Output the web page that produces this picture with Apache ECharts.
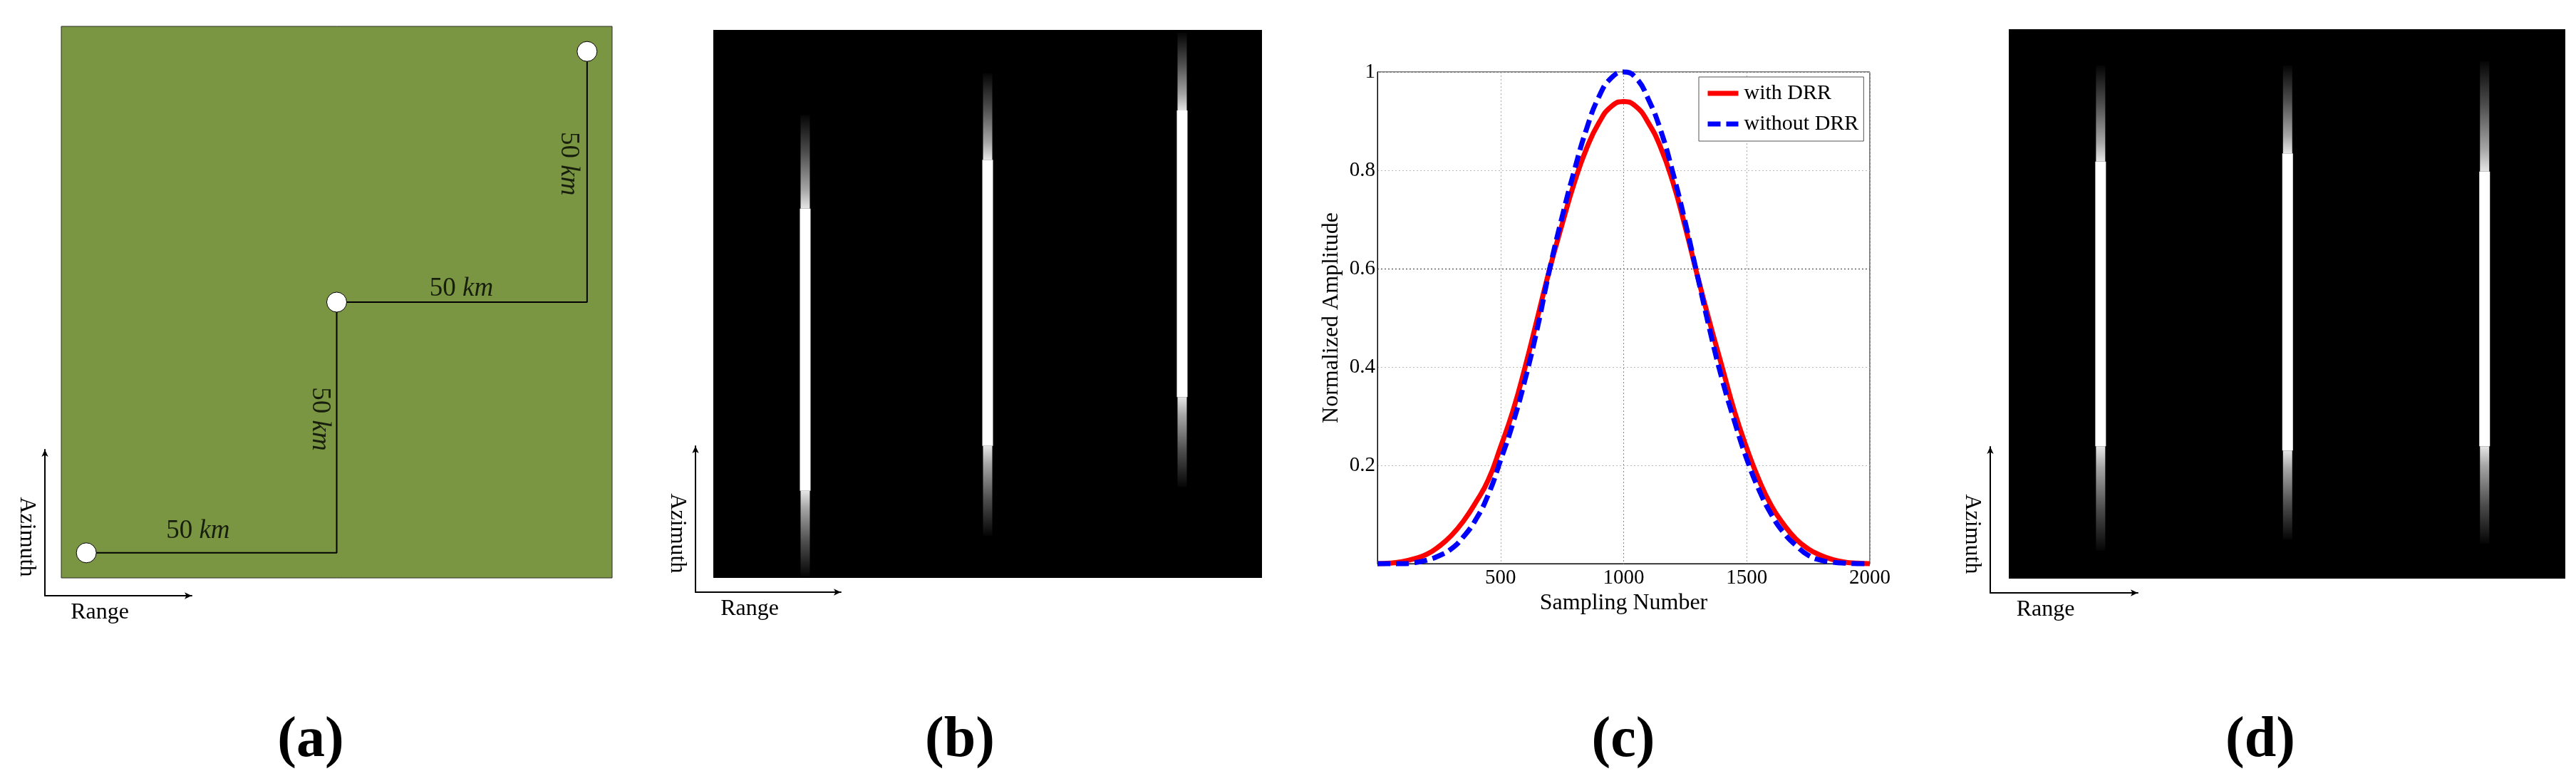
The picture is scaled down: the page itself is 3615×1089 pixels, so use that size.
<!DOCTYPE html>
<html>
<head>
<meta charset="utf-8">
<title>DRR figure</title>
<script src="https://cdn.jsdelivr.net/npm/echarts@6/dist/echarts.min.js"></script>
<style>
  html, body { margin: 0; padding: 0; background: #fff; }
  #main { width: 3615px; height: 1089px; }
</style>
</head>
<body>
<div id="main"></div>
<script>
// ---- datos (a): escena con tres blancos
const targetPoints = [[0, 0], [50, 50], [100, 100]];
const trackPath = [[0, 0], [50, 0], [50, 50], [100, 50], [100, 100]];
const kmLabels = ['50', '50', '50', '50'];
const kmLabelAt = [[22.3, 4.4], [46.6, 26.7], [74.9, 52.6], [96.3, 77.6]];
const kmLabelVertical = [false, true, false, true];

// ---- datos (b) y (d): [rango, inicio tenue, inicio brillo, fin brillo, fin tenue]
const stripesB = [
    [16.75, 84.5, 67.4, 15.9, 0.3],
    [50.0, 92.1, 76.3, 24.1, 7.7],
    [85.45, 99.5, 85.3, 33.0, 16.6]
];
const stripesD = [
    [16.5, 93.4, 75.9, 24.1, 5.1],
    [50.1, 93.4, 77.4, 23.3, 7.1],
    [85.5, 94.2, 74.1, 24.1, 6.4]
];

// ---- datos (c): perfil en acimut
const sampleIdx = [0, 50, 100, 150, 200, 250, 300, 350, 400, 450, 500, 550, 600, 650, 700, 750,
    800, 850, 900, 950, 1000, 1050, 1100, 1150, 1200, 1250, 1300, 1350, 1400, 1450, 1500,
    1550, 1600, 1650, 1700, 1750, 1800, 1850, 1900, 1950, 2000];
const withDRR = [0, 0.001, 0.004, 0.01, 0.019, 0.035, 0.057, 0.087, 0.125, 0.17, 0.237, 0.31,
    0.40, 0.50, 0.60, 0.69, 0.775, 0.845, 0.897, 0.93, 0.94, 0.93, 0.897, 0.847, 0.776, 0.685,
    0.585, 0.49, 0.40, 0.31, 0.235, 0.17, 0.118, 0.08, 0.05, 0.03, 0.017, 0.008, 0.003, 0.001, 0];
const withoutDRR = [0, 0, 0, 0.002, 0.007, 0.016, 0.03, 0.055, 0.09, 0.14, 0.21, 0.285,
    0.375, 0.48, 0.60, 0.705, 0.80, 0.885, 0.95, 0.988, 1.0, 0.988, 0.945, 0.882, 0.795, 0.695,
    0.585, 0.475, 0.375, 0.29, 0.213, 0.15, 0.10, 0.063, 0.037, 0.017, 0.007, 0.003, 0.001, 0, 0];
const seriesNames = ['with DRR', 'without DRR'];

const panelTags = ['(a)', '(b)', '(c)', '(d)'];

const FONT = '"Liberation Serif", "DejaVu Serif", serif';

const chart = echarts.init(document.getElementById('main'));

function hiddenAxis(g, min, max) {
    return { gridIndex: g, type: 'value', min: min, max: max, show: false };
}

function arrowX(g) {
    return {
        gridIndex: g, type: 'value', min: 0, max: 1,
        name: 'Range', nameLocation: 'middle', nameGap: 8,
        nameTextStyle: { fontFamily: FONT, fontSize: 32, color: '#000', padding: [0, 52, 0, 0] },
        axisLine: {
            show: true, onZero: false, symbol: ['none', 'arrow'], symbolSize: [7, 10],
            lineStyle: { color: '#000', width: 2 }
        },
        axisTick: { show: false }, axisLabel: { show: false }, splitLine: { show: false }
    };
}

function arrowY(g) {
    return {
        gridIndex: g, type: 'value', min: 0, max: 1,
        name: 'Azimuth', nameLocation: 'middle', nameRotate: -90, nameGap: 10,
        nameTextStyle: { fontFamily: FONT, fontSize: 32, color: '#000', padding: [0, 0, 0, 40] },
        axisLine: {
            show: true, onZero: false, symbol: ['none', 'arrow'], symbolSize: [7, 10],
            lineStyle: { color: '#000', width: 2 }
        },
        axisTick: { show: false }, axisLabel: { show: false }, splitLine: { show: false }
    };
}

// franja brillante con extremos que se desvanecen
function renderStripe(params, api) {
    const x = api.value(0);
    const pFadeTop = api.coord([x, api.value(1)]);
    const pTop = api.coord([x, api.value(2)]);
    const pBot = api.coord([x, api.value(3)]);
    const pFadeBot = api.coord([x, api.value(4)]);
    const w = 15;
    const left = pTop[0] - w / 2;
    const fadeStops = [
        { offset: 0, color: 'rgba(255,255,255,0.02)' },
        { offset: 0.4, color: 'rgba(255,255,255,0.3)' },
        { offset: 0.8, color: 'rgba(255,255,255,0.65)' },
        { offset: 1, color: 'rgba(255,255,255,0.9)' }
    ];
    const fadeStopsRev = fadeStops.map(s => ({ offset: 1 - s.offset, color: s.color })).reverse();
    return {
        type: 'group',
        children: [
            {
                type: 'rect',
                shape: { x: left + 1, y: pFadeTop[1], width: w - 2, height: pTop[1] - pFadeTop[1] },
                style: { fill: new echarts.graphic.LinearGradient(0, 0, 0, 1, fadeStops) }
            },
            {
                type: 'rect',
                shape: { x: left, y: pTop[1], width: w, height: pBot[1] - pTop[1] },
                style: { fill: '#ffffff' }
            },
            {
                type: 'rect',
                shape: { x: left + 1, y: pBot[1], width: w - 2, height: pFadeBot[1] - pBot[1] },
                style: { fill: new echarts.graphic.LinearGradient(0, 0, 0, 1, fadeStopsRev) }
            }
        ]
    };
}

const splitColorsY = ['#bbb', '#bbb', '#bbb', '#333', '#bbb', '#bbb'];
const splitColorsX = ['#aaa', '#aaa', '#888', '#aaa', '#aaa'];

const option = {
    backgroundColor: '#ffffff',
    animation: false,
    grid: [
        { left: 86, top: 37, width: 773, height: 774, show: true, backgroundColor: '#7a9642', borderColor: '#2b2b2b', borderWidth: 1 },
        { left: 63, top: 631, width: 206, height: 205 },
        { left: 1001, top: 42, width: 770, height: 769, show: true, backgroundColor: '#000', borderWidth: 0 },
        { left: 976, top: 626, width: 204, height: 205 },
        { left: 1933, top: 101, width: 691, height: 690, show: true, backgroundColor: '#fff', borderColor: '#000', borderWidth: 1 },
        { left: 2819, top: 41, width: 781, height: 771, show: true, backgroundColor: '#000', borderWidth: 0 },
        { left: 2793, top: 627, width: 207, height: 205 }
    ],
    xAxis: [
        hiddenAxis(0, -5, 105),
        arrowX(1),
        hiddenAxis(2, 0, 100),
        arrowX(3),
        {
            gridIndex: 4, type: 'value', min: 0, max: 2000, interval: 500,
            name: 'Sampling Number', nameLocation: 'middle', nameGap: 36,
            nameTextStyle: { fontFamily: FONT, fontSize: 32, color: '#000' },
            axisLine: { show: true, onZero: false, lineStyle: { color: '#000', width: 1 } },
            axisTick: { show: false },
            axisLabel: {
                showMinLabel: false, fontFamily: FONT, fontSize: 29, color: '#000', margin: 6,
                formatter: v => String(v)
            },
            splitLine: { show: true, lineStyle: { type: [2, 3], color: splitColorsX, width: 1 } }
        },
        hiddenAxis(5, 0, 100),
        arrowX(6)
    ],
    yAxis: [
        hiddenAxis(0, -5, 105),
        arrowY(1),
        hiddenAxis(2, 0, 100),
        arrowY(3),
        {
            gridIndex: 4, type: 'value', min: 0, max: 1, interval: 0.2,
            name: 'Normalized Amplitude', nameLocation: 'middle', nameGap: 48,
            nameTextStyle: { fontFamily: FONT, fontSize: 32, color: '#000' },
            axisLine: { show: true, onZero: false, lineStyle: { color: '#000', width: 1 } },
            axisTick: { show: false },
            axisLabel: { showMinLabel: false, fontFamily: FONT, fontSize: 29, color: '#000', margin: 3 },
            splitLine: { show: true, lineStyle: { type: [2, 3], color: splitColorsY, width: 1 } }
        },
        hiddenAxis(5, 0, 100),
        arrowY(6)
    ],
    legend: {
        data: seriesNames,
        orient: 'vertical',
        left: 2384, top: 108,
        padding: [8, 7, 9, 9],
        itemWidth: 43, itemHeight: 14, itemGap: 13,
        backgroundColor: '#fff', borderColor: '#555', borderWidth: 1, borderRadius: 0,
        selectedMode: false,
        itemStyle: { opacity: 0 },
        lineStyle: { width: 7, cap: 'butt' },
        textStyle: { fontFamily: FONT, fontSize: 30, color: '#000', padding: [0, 0, 0, 3] }
    },
    graphic: panelTags.map((t, i) => ({
        type: 'text',
        x: [436, 1347, 2278, 3172][i],
        y: 1040,
        style: { text: t, font: 'bold 80px ' + FONT, align: 'center', verticalAlign: 'middle', fill: '#000' }
    })),
    series: [
        // (a)
        {
            type: 'line', xAxisIndex: 0, yAxisIndex: 0, data: trackPath,
            symbol: 'none', silent: true, z: 3,
            lineStyle: { color: '#000', width: 2 }
        },
        {
            type: 'scatter', xAxisIndex: 0, yAxisIndex: 0, data: targetPoints,
            symbolSize: 28, z: 4,
            itemStyle: { color: '#fff', borderColor: '#000', borderWidth: 1, opacity: 1 }
        },
        {
            type: 'scatter', xAxisIndex: 0, yAxisIndex: 0, symbolSize: 0, z: 5, silent: true,
            data: kmLabelAt.map((p, i) => ({ value: p, label: { rotate: kmLabelVertical[i] ? -90 : 0 } })),
            label: {
                show: true, position: 'inside',
                formatter: p => '{n|' + kmLabels[p.dataIndex] + ' }{i|km}',
                rich: {
                    n: { fontFamily: FONT, fontSize: 37, color: '#000' },
                    i: { fontFamily: FONT, fontSize: 37, fontStyle: 'italic', color: '#000' }
                }
            }
        },
        // (b)
        {
            type: 'custom', xAxisIndex: 2, yAxisIndex: 2, data: stripesB,
            renderItem: renderStripe, silent: true
        },
        // (c)
        {
            name: seriesNames[0], type: 'line', xAxisIndex: 4, yAxisIndex: 4,
            data: sampleIdx.map((x, i) => [x, withDRR[i]]),
            smooth: true, symbol: 'none', clip: false, z: 3,
            lineStyle: { color: '#ff0000', width: 7 },
            itemStyle: { color: '#ff0000' }
        },
        {
            name: seriesNames[1], type: 'line', xAxisIndex: 4, yAxisIndex: 4,
            data: sampleIdx.map((x, i) => [x, withoutDRR[i]]),
            smooth: true, symbol: 'none', clip: false, z: 4,
            lineStyle: { color: '#0000ff', width: 7, type: [18, 8], cap: 'butt' },
            itemStyle: { color: '#0000ff' }
        },
        // (d)
        {
            type: 'custom', xAxisIndex: 5, yAxisIndex: 5, data: stripesD,
            renderItem: renderStripe, silent: true
        }
    ]
};

chart.setOption(option);

window.addEventListener('resize', function () {
    chart.resize();
});
</script>
</body>
</html>
